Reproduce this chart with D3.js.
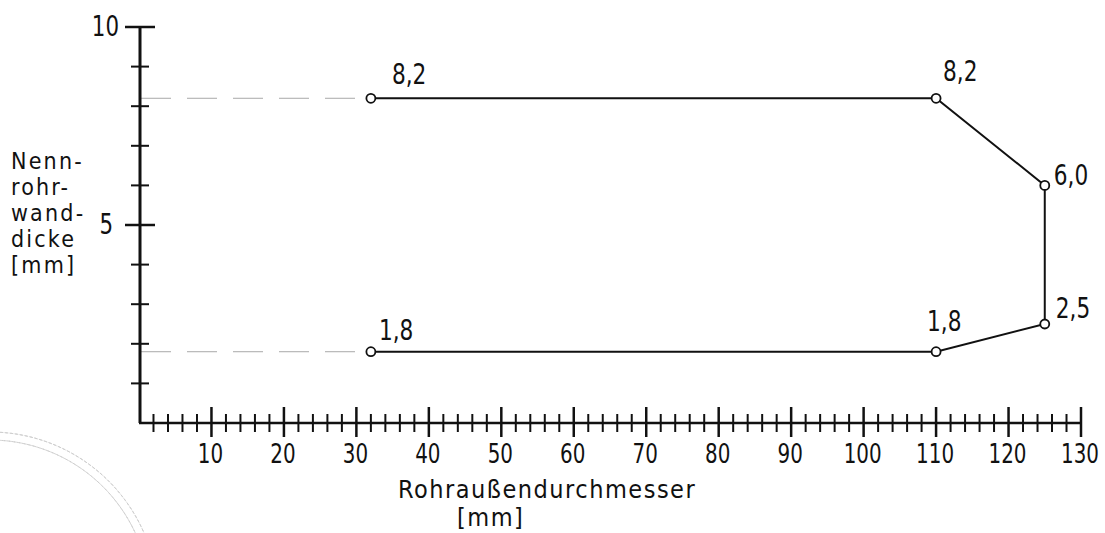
<!DOCTYPE html>
<html>
<head>
<meta charset="utf-8">
<script src="https://cdn.jsdelivr.net/npm/d3@7"></script>
<style>
  html, body { margin: 0; padding: 0; background: #fff; }
  svg { display: block; }
  .num { font-family: "DejaVu Sans Condensed", "DejaVu Sans", sans-serif; fill: #111; }
  .ttl { font-family: "DejaVu Sans Condensed", "DejaVu Sans", sans-serif; fill: #111; }
</style>
</head>
<body>
<svg id="chart" width="1105" height="533"></svg>
<script>
// ---- data ----
const xValues = [32, 110, 125, 125, 110, 32];
const yValues = [8.2, 8.2, 6.0, 2.5, 1.8, 1.8];
const pointLabels = ["8,2", "8,2", "6,0", "2,5", "1,8", "1,8"];
const labelDx = [21, 7, 9, 11, -9, 8];
const labelDy = [-14, -17, 0, -6, -21, -12];
const xTickLabels = [10, 20, 30, 40, 50, 60, 70, 80, 90, 100, 110, 120, 130];
const yTickLabels = [5, 10];
const refLevels = [8.2, 1.8];   // dashed reference lines from the axis
const yTitleLines = ["Nenn-", "rohr-", "wand-", "dicke", "[mm]"];
const xTitleLines = ["Rohraußendurchmesser", "[mm]"];

const svg = d3.select("#chart");
const x = d3.scaleLinear().domain([0, 130]).range([139, 1081]);
const y = d3.scaleLinear().domain([0, 10]).range([423, 27]);

// narrow technical lettering: condensed font squeezed horizontally
function narrowText(sel, px, py, size, sx) {
  sel.attr("class", "num").attr("x", 0).attr("y", 0)
    .style("font-size", size + "px")
    .attr("transform", (d, i) => `translate(${px(d, i)},${py(d, i)}) scale(${sx},1)`);
  return sel;
}

// faint library stamp, bottom left
const stamp = svg.append("g").attr("fill", "none").attr("stroke", "#cfcfcf");
[168, 160].forEach(r => {
  stamp.append("path")
    .attr("d", d3.arc()({innerRadius: r, outerRadius: r, startAngle: -0.3, endAngle: 1.2}))
    .attr("transform", "translate(-10,600)")
    .attr("stroke-width", 1).attr("stroke-dasharray", "3,2");
});

// dashed reference lines
svg.selectAll(".ref").data(refLevels).enter().append("line")
  .attr("x1", x(0) + 2).attr("x2", x(xValues[0]) - 5)
  .attr("y1", d => y(d)).attr("y2", d => y(d))
  .attr("stroke", "#a8a8a8").attr("stroke-width", 1)
  .attr("stroke-dasharray", "30,16");

// x axis
const xMinor = d3.range(2, 131, 2).filter(v => v % 10 !== 0);
svg.append("line").attr("x1", x(0)).attr("x2", x(130))
  .attr("y1", y(0)).attr("y2", y(0)).attr("stroke", "#111").attr("stroke-width", 2.5);
svg.selectAll(".xminor").data(xMinor).enter().append("line")
  .attr("x1", d => x(d)).attr("x2", d => x(d))
  .attr("y1", y(0) - 9).attr("y2", y(0) + 9)
  .attr("stroke", "#111").attr("stroke-width", 2);
svg.selectAll(".xmajor").data(xTickLabels).enter().append("line")
  .attr("x1", d => x(d)).attr("x2", d => x(d))
  .attr("y1", y(0) - 16).attr("y2", y(0) + 14)
  .attr("stroke", "#111").attr("stroke-width", 2.5);
narrowText(svg.selectAll(".xlab").data(xTickLabels).enter().append("text"),
  d => x(d) - 1, () => 463, 27, 0.82)
  .attr("text-anchor", "middle").text(d => d);

// y axis
const yMinor = d3.range(1, 10).filter(v => !yTickLabels.includes(v));
svg.append("line").attr("x1", 140).attr("x2", 140)
  .attr("y1", y(10)).attr("y2", y(0)).attr("stroke", "#111").attr("stroke-width", 3);
svg.selectAll(".yminor").data(yMinor).enter().append("line")
  .attr("x1", 131).attr("x2", 149)
  .attr("y1", d => y(d)).attr("y2", d => y(d))
  .attr("stroke", "#111").attr("stroke-width", 2);
svg.selectAll(".ymajor").data(yTickLabels).enter().append("line")
  .attr("x1", 125).attr("x2", 155)
  .attr("y1", d => y(d)).attr("y2", d => y(d))
  .attr("stroke", "#111").attr("stroke-width", 2.5);
narrowText(svg.selectAll(".ylab").data(yTickLabels).enter().append("text"),
  d => d === 10 ? 119 : 113, d => y(d) + 9, 29, 0.82)
  .attr("text-anchor", "end").text(d => d);

// axis titles
svg.append("text").attr("class", "ttl").attr("x", 11).attr("y", 169)
  .style("font-size", "23px").style("letter-spacing", "2.2px")
  .selectAll("tspan").data(yTitleLines).enter().append("tspan")
  .attr("x", 11).attr("dy", (d, i) => i === 0 ? 0 : 26).text(d => d);
svg.append("text").attr("class", "ttl").attr("x", 398).attr("y", 498)
  .style("font-size", "25px").style("letter-spacing", "1.5px").text(xTitleLines[0]);
svg.append("text").attr("class", "ttl").attr("x", 457).attr("y", 526)
  .style("font-size", "25px").style("letter-spacing", "1.5px").text(xTitleLines[1]);

// data outline
const pts = xValues.map((v, i) => [v, yValues[i]]);
svg.append("path").datum(pts)
  .attr("d", d3.line().x(d => x(d[0])).y(d => y(d[1])))
  .attr("fill", "none").attr("stroke", "#111").attr("stroke-width", 2);
svg.selectAll(".pt").data(pts).enter().append("circle")
  .attr("cx", d => x(d[0])).attr("cy", d => y(d[1])).attr("r", 4.5)
  .attr("fill", "#fff").attr("stroke", "#111").attr("stroke-width", 1.8);
narrowText(svg.selectAll(".plab").data(pts).enter().append("text"),
  (d, i) => x(d[0]) + labelDx[i], (d, i) => y(d[1]) + labelDy[i], 28, 0.86)
  .text((d, i) => pointLabels[i]);
</script>
</body>
</html>
